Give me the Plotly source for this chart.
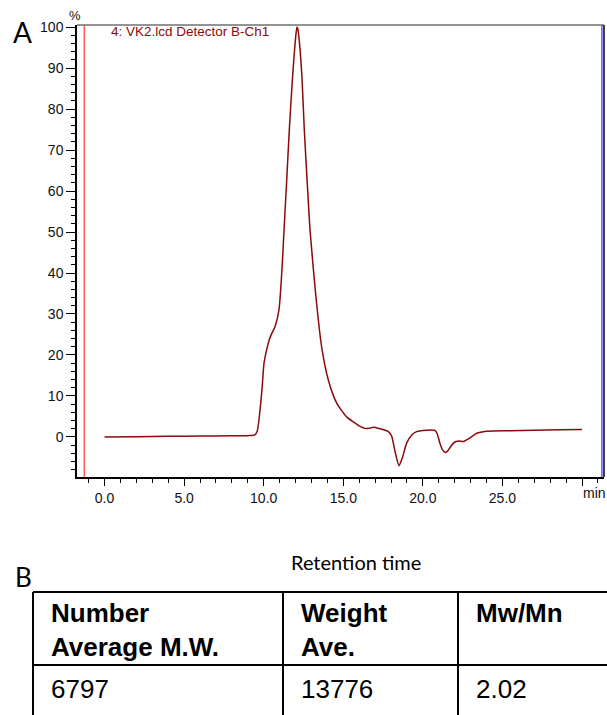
import plotly.graph_objects as go

# ---- chromatogram data ----
time_min = [0, 2, 4, 6, 8, 9, 9.45, 9.6, 9.77, 9.9, 10.02, 10.2, 10.35, 10.5, 10.71, 10.96,
            11.17, 11.27, 11.45, 11.61, 11.8, 11.95, 12.05, 12.1, 12.15, 12.25, 12.4, 12.55,
            12.75, 12.91, 13.28, 13.64, 14.06, 14.58, 15.21, 15.7, 16.0, 16.36, 16.6, 16.9,
            17.3, 17.83, 18.04, 18.25, 18.5, 18.7, 18.98, 19.3, 19.61, 20.0, 20.76, 20.9,
            21.07, 21.25, 21.43, 21.6, 21.85, 22.08, 22.3, 22.54, 23.0, 23.38, 24.0, 25.47,
            27, 28.5, 30]
signal_pct = [0.0, 0.08, 0.15, 0.22, 0.28, 0.32, 0.5, 1.5, 6.6, 12, 18, 21.5, 23.7, 25.2, 26.9, 31,
              42.4, 50, 63, 75, 87, 95, 99, 100, 99.5, 96, 88, 75,
              61, 50.5, 34.2, 22, 13.9, 8.3, 4.9, 3.5, 2.7, 2.1, 2.1, 2.4,
              2.0, 1.3, 0.2, -3.5, -7.0, -5.2, -1.5, 0.5, 1.3, 1.6, 1.6, 0.8,
              -1.5, -3.2, -3.8, -3.2, -1.8, -1.1, -1.0, -1.1, -0.1, 0.9, 1.4, 1.55,
              1.65, 1.75, 1.85]

x_tick_vals = [0, 5, 10, 15, 20, 25, 30]
x_tick_text = ["0.0", "5.0", "10.0", "15.0", "20.0", "25.0", ""]
y_tick_vals = [-10, 0, 10, 20, 30, 40, 50, 60, 70, 80, 90, 100]
y_tick_text = ["-10", "0", "10", "20", "30", "40", "50", "60", "70", "80", "90", "100"]

trace_label = "4: VK2.lcd Detector B-Ch1"
start_marker = -1.27
end_marker = 31.25

# ---- table data ----
table_headers = ["Number<br>Average M.W.", "Weight<br>Ave.", "Mw/Mn"]
table_values = ["6797", "13776", "2.02"]

W, H = 607, 715
L, R, T, B = 77, 3, 25, 238

fig = go.Figure()
fig.add_trace(go.Scatter(x=time_min, y=signal_pct, mode="lines",
                         line=dict(color="#8b0a0a", width=1.5, shape="spline", smoothing=0.6),
                         hoverinfo="skip", showlegend=False))

# start / end markers
fig.add_shape(type="line", xref="x", yref="paper", x0=start_marker, x1=start_marker, y0=0, y1=1,
              line=dict(color="#ff5a5a", width=1.5))
fig.add_shape(type="line", xref="x", yref="paper", x0=end_marker, x1=end_marker, y0=0, y1=1,
              line=dict(color="#5a5aff", width=1.5))
# frame: top grey, right black
fig.add_shape(type="line", xref="paper", yref="paper", x0=0, x1=1, y0=1, y1=1,
              line=dict(color="#707070", width=1.5))
fig.add_shape(type="line", xref="paper", yref="paper", x0=1, x1=1, y0=0, y1=1,
              line=dict(color="black", width=1.5))

tick_font = dict(family="Liberation Sans, Arial", size=14, color="#111")

fig.update_xaxes(range=[-1.73, 31.38], showline=True, linecolor="black", linewidth=1.5,
                 ticks="outside", ticklen=7, tickwidth=1.2, tickcolor="black",
                 tickvals=x_tick_vals, ticktext=x_tick_text, tickfont=tick_font,
                 minor=dict(dtick=1, tick0=0, ticks="outside", ticklen=4, tickwidth=1, tickcolor="black"),
                 showgrid=False, zeroline=False, fixedrange=True)
fig.update_yaxes(range=[-9.76, 100.49], showline=True, linecolor="black", linewidth=1.5,
                 ticks="outside", ticklen=9, tickwidth=1.2, tickcolor="black",
                 tickvals=y_tick_vals, ticktext=y_tick_text, tickfont=tick_font,
                 minor=dict(dtick=2, tick0=0, ticks="outside", ticklen=4, tickwidth=1, tickcolor="black"),
                 showgrid=False, zeroline=False, fixedrange=True)

def px_x(px):
    return (px - L) / (W - L - R)

def px_y(py):
    return 1 - (py - T) / (H - T - B)

ann = []
ann.append(dict(text="A", x=px_x(11), y=px_y(32), xanchor="left", yanchor="middle",
                font=dict(family="Lato, Open Sans", size=28, color="black")))
ann.append(dict(text="%", x=px_x(75), y=px_y(16), xanchor="center", yanchor="middle",
                font=dict(family="Liberation Sans, Arial", size=13, color="#111")))
ann.append(dict(text=trace_label, x=px_x(109), y=px_y(32), xanchor="left", yanchor="middle",
                font=dict(family="Liberation Sans, Arial", size=13.5, color="#8b0a0a")))
ann.append(dict(text="min", x=px_x(594), y=px_y(493), xanchor="center", yanchor="middle",
                font=tick_font))
ann.append(dict(text="Retention time", x=px_x(356), y=px_y(562), xanchor="center", yanchor="middle",
                font=dict(family="Lato, Open Sans", size=20, color="black")))
ann.append(dict(text="B", x=px_x(13), y=px_y(577), xanchor="left", yanchor="middle",
                font=dict(family="Lato, Open Sans", size=26, color="black")))

# table grid
tbl_left, tbl_right = 33, 607
col_edges = [33, 283, 458, 640]
tbl_top, tbl_mid, tbl_bot = 592, 665, 730
line_style = dict(color="black", width=2)
fig.add_shape(type="line", xref="paper", yref="paper", x0=px_x(tbl_left), x1=px_x(tbl_right + 2),
              y0=px_y(tbl_top), y1=px_y(tbl_top), line=line_style)
fig.add_shape(type="line", xref="paper", yref="paper", x0=px_x(tbl_left), x1=px_x(tbl_right + 2),
              y0=px_y(tbl_mid), y1=px_y(tbl_mid), line=line_style)
for cx in col_edges[:3]:
    fig.add_shape(type="line", xref="paper", yref="paper", x0=px_x(cx), x1=px_x(cx),
                  y0=px_y(tbl_top), y1=px_y(tbl_bot), line=line_style)

for i, (h, v) in enumerate(zip(table_headers, table_values)):
    ann.append(dict(text="<b>" + h + "</b>", x=px_x(col_edges[i] + 16), y=px_y(596),
                    xanchor="left", yanchor="top", align="left",
                    font=dict(family="Liberation Sans, Arial", size=26, color="black")))
    ann.append(dict(text=v, x=px_x(col_edges[i] + 16), y=px_y(689),
                    xanchor="left", yanchor="middle", align="left",
                    font=dict(family="Liberation Sans, Arial", size=26, color="black")))

for a in ann:
    a.update(xref="paper", yref="paper", showarrow=False)
fig.update_layout(annotations=ann, width=W, height=H,
                  margin=dict(l=L, r=R, t=T, b=B, pad=0),
                  plot_bgcolor="white", paper_bgcolor="white")

fig.write_html("out.html", config={"displayModeBar": False},
               post_script="document.body.style.margin='0';")
